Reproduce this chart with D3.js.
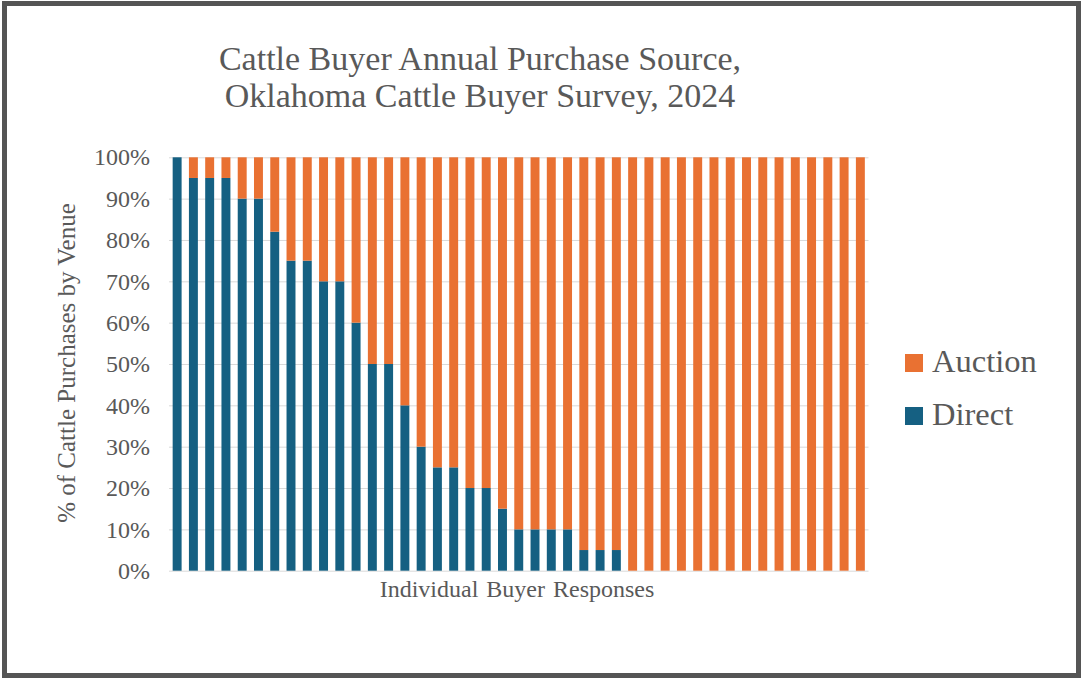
<!DOCTYPE html>
<html>
<head>
<meta charset="utf-8">
<script src="https://cdn.jsdelivr.net/npm/d3@7"></script>
</head>
<body style="margin:0">
<svg id="chart" width="1081" height="679" font-family="Liberation Serif"></svg>
<script>
// Share of each buyer's annual purchases bought direct (%), sorted high to low
const directShare = [100, 95, 95, 95, 90, 90, 82, 75, 75, 70, 70, 60, 50, 50, 40,
  30, 25, 25, 20, 20, 15, 10, 10, 10, 10, 5, 5, 5,
  0, 0, 0, 0, 0, 0, 0, 0, 0, 0, 0, 0, 0, 0, 0];
const buyers = directShare.map((_, i) => i + 1);
const seriesNames = ["Auction", "Direct"];
const seriesColors = ["#E97132", "#156082"];
const yTicks = [0, 10, 20, 30, 40, 50, 60, 70, 80, 90, 100];
const titleLines = ["Cattle Buyer Annual Purchase Source,", "Oklahoma Cattle Buyer Survey, 2024"];

const FONT = "Liberation Serif";
const INK = "#595959";

const rows = buyers.map((b, i) => ({ buyer: b, Direct: directShare[i], Auction: 100 - directShare[i] }));

const svg = d3.select("#chart");

// outer frame
svg.append("rect")
  .attr("x", 4.5).attr("y", 3.5)
  .attr("width", 1074).attr("height", 672)
  .attr("fill", "#ffffff")
  .attr("stroke", "#555555").attr("stroke-width", 5);

const plot = { left: 169, right: 868.5, top: 157.3, bottom: 570.7 };

const x = d3.scaleBand()
  .domain(buyers)
  .range([plot.left, plot.right])
  .paddingInner(0.45).paddingOuter(0.225);

const y = d3.scaleLinear().domain([0, 100]).range([plot.bottom, plot.top]);

// horizontal gridlines and percent labels
const yAxis = d3.axisLeft(y)
  .tickValues(yTicks)
  .tickSize(-(plot.right - plot.left))
  .tickPadding(19)
  .tickFormat(d => d + "%");

const gy = svg.append("g")
  .attr("transform", `translate(${plot.left},0)`)
  .call(yAxis)
  .attr("font-family", FONT)
  .attr("font-size", 24);
gy.select(".domain").remove();
gy.selectAll(".tick line").attr("stroke", "#d9d9d9").attr("stroke-width", 1);
gy.selectAll(".tick text").attr("fill", INK);

// stacked bars: Direct at the bottom, Auction on top
const stack = d3.stack().keys(["Direct", "Auction"]);
const layers = stack(rows);
const colorOf = d3.scaleOrdinal().domain(seriesNames).range(seriesColors);

svg.append("g").selectAll("g")
  .data(layers)
  .join("g")
  .attr("fill", d => colorOf(d.key))
  .selectAll("rect")
  .data(d => d)
  .join("rect")
  .attr("x", d => x(d.data.buyer))
  .attr("width", x.bandwidth())
  .attr("y", d => y(d[1]))
  .attr("height", d => y(d[0]) - y(d[1]));

// title
svg.append("text")
  .attr("text-anchor", "middle")
  .attr("fill", INK)
  .attr("font-family", FONT)
  .attr("font-size", 34)
  .selectAll("tspan")
  .data(titleLines)
  .join("tspan")
  .attr("x", 480)
  .attr("y", (d, i) => 70 + i * 37)
  .text(d => d);

// axis titles
svg.append("text")
  .attr("transform", `translate(75,${(plot.top + plot.bottom) / 2 - 1}) rotate(-90)`)
  .attr("text-anchor", "middle")
  .attr("fill", INK)
  .attr("font-family", FONT)
  .attr("font-size", 25)
  .text("% of Cattle Purchases by Venue");

svg.append("text")
  .attr("x", 517).attr("y", 597)
  .attr("text-anchor", "middle")
  .attr("fill", INK)
  .attr("font-family", FONT)
  .attr("font-size", 24)
  .attr("word-spacing", 2)
  .text("Individual Buyer Responses");

// legend
const legend = svg.append("g").selectAll("g")
  .data(seriesNames)
  .join("g")
  .attr("transform", (d, i) => `translate(905,${354 + i * 53})`);
legend.append("rect")
  .attr("width", 18).attr("height", 18)
  .attr("fill", d => colorOf(d));
legend.append("text")
  .attr("x", 27).attr("y", 18)
  .attr("fill", INK)
  .attr("font-family", FONT)
  .attr("font-size", 32.5)
  .text(d => d);
</script>
</body>
</html>
